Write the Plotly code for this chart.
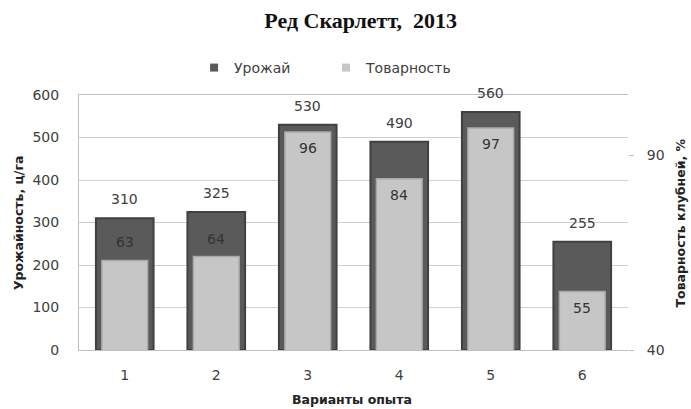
import plotly.graph_objects as go
from plotly.subplots import make_subplots

variants = ["1", "2", "3", "4", "5", "6"]
urozhai = [310, 325, 530, 490, 560, 255]
tovarnost = [63, 64, 96, 84, 97, 55]
# label offsets (style): Товарность labels above bar top for the first two, inside for the rest
tov_label_shift = [18, 18, -16, -16, -16, -16]

font_family = "DejaVu Sans, Liberation Sans, sans-serif"
txt = "#404040"
dark = "#5a5a5a"
light = "#c6c6c6"

fig = make_subplots(specs=[[{"secondary_y": True}]])
fig.add_trace(go.Bar(
    x=variants, y=urozhai, name="Урожай", width=0.63, showlegend=False,
    marker=dict(color=dark, line=dict(color="#404040", width=2)),
), secondary_y=False)
fig.add_trace(go.Bar(
    x=variants, y=tovarnost, name="Товарность", width=0.5, showlegend=False,
    marker=dict(color=light, line=dict(color="#a8a8a8", width=1.5)),
), secondary_y=True)
# legend entries with small square markers
fig.add_trace(go.Scatter(x=[None], y=[None], mode="markers", name="Урожай",
                         marker=dict(symbol="square", size=8, color=dark)), secondary_y=False)
fig.add_trace(go.Scatter(x=[None], y=[None], mode="markers", name="Товарность",
                         marker=dict(symbol="square", size=8, color=light)), secondary_y=False)

annotations = []
for i, u in enumerate(urozhai):
    annotations.append(dict(x=i, y=u, xref="x", yref="y", text=str(u), showarrow=False,
                            yshift=19, font=dict(size=14, color=txt)))
for i, (t, s) in enumerate(zip(tovarnost, tov_label_shift)):
    annotations.append(dict(x=i, y=t, xref="x", yref="y2", text=str(t), showarrow=False,
                            yshift=s, font=dict(size=14, color="#333333")))
# axis titles
annotations += [
    dict(x=-0.11, y=0.5, xref="paper", yref="paper", text="<b>Урожайность, ц/га</b>",
         xanchor="center", yanchor="middle",
         textangle=-90, showarrow=False, font=dict(size=12.5, color="#222222")),
    dict(x=1.0965, y=0.5, xref="paper", yref="paper", text="<b>Товарность клубней, %</b>",
         xanchor="center", yanchor="middle",
         textangle=-90, showarrow=False, font=dict(size=12.5, color="#222222")),
    dict(x=0.498, y=-0.196, xref="paper", yref="paper", text="<b>Варианты опыта</b>",
         xanchor="center", yanchor="middle",
         showarrow=False, font=dict(size=12.5, color="#222222")),
]

fig.update_layout(
    width=691, height=409, barmode="overlay",
    paper_bgcolor="white", plot_bgcolor="white",
    margin=dict(l=79, r=63, t=95, b=59, autoexpand=False),
    font=dict(family=font_family, size=14, color=txt),
    title=dict(text="<b>Ред Скарлетт,  2013</b>", x=0.522, xanchor="center",
               y=0.951, yanchor="middle",
               font=dict(family="Liberation Serif, serif", size=22, color="#111111")),
    legend=dict(orientation="h", x=0.2096, xanchor="left", y=1.106, yanchor="middle",
                font=dict(size=14, color=txt), itemwidth=30, entrywidth=87,
                traceorder="normal"),
    showlegend=True,
    annotations=annotations,
)
fig.update_xaxes(
    type="category", domain=[0, 1],
    showline=True, linecolor="#bfbfbf", linewidth=1, mirror=True,
    tickfont=dict(size=14, color=txt), ticks="", ticklabelstandoff=12, automargin=False,
)
fig.update_yaxes(
    range=[0, 600], dtick=100, showgrid=True, gridcolor="#cfcfcf",
    showline=True, linecolor="#bfbfbf", zeroline=False, automargin=False,
    tickfont=dict(size=14, color=txt), ticklabelstandoff=16, secondary_y=False,
)
fig.update_yaxes(
    range=[40, 105.5], tick0=40, dtick=50, showgrid=False, zeroline=False, automargin=False,
    ticks="outside", ticklen=5, tickcolor="#bfbfbf", ticklabelstandoff=10,
    tickfont=dict(size=14, color=txt), secondary_y=True,
)
fig.write_html("out.html")
